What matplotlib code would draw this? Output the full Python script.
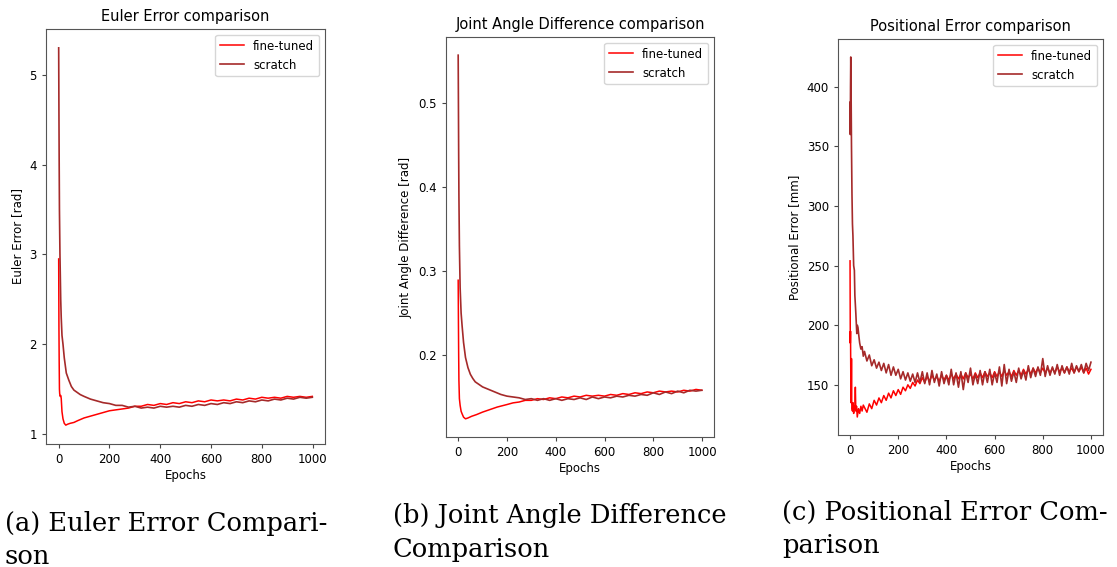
import matplotlib
matplotlib.use("Agg")
import matplotlib.pyplot as plt

# ---- (a) Euler error [rad] ----
euler_ft_ep = [0, 1, 2, 3, 4, 6, 8, 10, 13, 17, 22, 28, 35, 45, 60, 75, 100, 125, 150, 175,
               200, 225, 250, 275, 300, 325, 350, 375, 400, 425, 450, 475, 500, 525, 550, 575,
               600, 625, 650, 675, 700, 725, 750, 775, 800, 825, 850, 875, 900, 925, 950, 975, 999]
euler_ft = [2.95, 2.20, 1.80, 1.50, 1.45, 1.42, 1.43, 1.40, 1.25, 1.17, 1.12, 1.10, 1.11, 1.12,
            1.13, 1.15, 1.18, 1.20, 1.22, 1.24, 1.26, 1.27, 1.28, 1.29, 1.31, 1.31, 1.33, 1.32,
            1.34, 1.33, 1.35, 1.34, 1.36, 1.35, 1.37, 1.36, 1.38, 1.37, 1.38, 1.37, 1.39, 1.38,
            1.40, 1.39, 1.41, 1.40, 1.41, 1.40, 1.42, 1.41, 1.42, 1.41, 1.42]
euler_sc_ep = [0, 1, 2, 3, 5, 8, 10, 13, 17, 22, 30, 40, 50, 60, 70, 85, 100, 125, 150, 175,
               200, 225, 250, 275, 300, 325, 350, 375, 400, 425, 450, 475, 500, 525, 550, 575,
               600, 625, 650, 675, 700, 725, 750, 775, 800, 825, 850, 875, 900, 925, 950, 975, 999]
euler_sc = [5.30, 4.60, 4.00, 3.50, 3.00, 2.50, 2.30, 2.10, 2.00, 1.85, 1.68, 1.60, 1.53, 1.49,
            1.47, 1.44, 1.42, 1.39, 1.37, 1.35, 1.34, 1.32, 1.32, 1.30, 1.31, 1.29, 1.30, 1.29,
            1.31, 1.30, 1.31, 1.30, 1.32, 1.31, 1.33, 1.32, 1.34, 1.33, 1.35, 1.34, 1.36, 1.35,
            1.37, 1.36, 1.38, 1.37, 1.39, 1.38, 1.40, 1.39, 1.41, 1.40, 1.41]

# ---- (b) Joint angle difference [rad] ----
joint_ft_ep = [0, 1, 2, 3, 5, 8, 12, 16, 22, 30, 40, 55, 75, 100, 130, 160, 200, 225, 250, 275,
               300, 325, 350, 375, 400, 425, 450, 475, 500, 525, 550, 575, 600, 625, 650, 675,
               700, 725, 750, 775, 800, 825, 850, 875, 900, 925, 950, 975, 999]
joint_ft = [0.289, 0.240, 0.200, 0.170, 0.148, 0.140, 0.133, 0.130, 0.126, 0.124, 0.125, 0.127,
            0.129, 0.132, 0.135, 0.138, 0.141, 0.143, 0.144, 0.146, 0.146, 0.148, 0.147, 0.149,
            0.148, 0.150, 0.149, 0.151, 0.150, 0.152, 0.151, 0.152, 0.151, 0.153, 0.152, 0.154,
            0.153, 0.155, 0.154, 0.156, 0.155, 0.157, 0.156, 0.157, 0.156, 0.158, 0.157, 0.159, 0.158]
joint_sc_ep = [0, 1, 2, 3, 5, 8, 12, 16, 22, 30, 40, 50, 60, 70, 85, 100, 125, 150, 175, 200,
               225, 250, 275, 300, 325, 350, 375, 400, 425, 450, 475, 500, 525, 550, 575, 600,
               625, 650, 675, 700, 725, 750, 775, 800, 825, 850, 875, 900, 925, 950, 975, 999]
joint_sc = [0.557, 0.500, 0.440, 0.390, 0.330, 0.280, 0.250, 0.235, 0.215, 0.197, 0.185, 0.177,
            0.172, 0.168, 0.165, 0.162, 0.159, 0.156, 0.153, 0.151, 0.150, 0.149, 0.147, 0.148,
            0.146, 0.148, 0.146, 0.148, 0.146, 0.148, 0.147, 0.149, 0.147, 0.150, 0.148, 0.150,
            0.149, 0.151, 0.150, 0.152, 0.151, 0.153, 0.152, 0.155, 0.153, 0.156, 0.154, 0.157,
            0.155, 0.158, 0.157, 0.158]

# ---- (c) Positional error [mm] ----
pos_ep_early_ft = [0, 1, 2, 3, 4, 5, 6, 7, 8, 10, 12, 15, 18, 20, 22, 24, 27, 30, 35, 40, 45, 50, 55]
pos_ft_early = [254, 185, 195, 160, 135, 140, 172, 135, 130, 128, 135, 126, 132, 130, 148, 128,
                132, 123, 130, 126, 132, 128, 133]
pos_ep_early_sc = [0, 1, 2, 3, 4, 6, 8, 10, 12, 15, 18, 20, 24, 28, 30, 33, 36, 40, 45, 50, 55]
pos_sc_early = [387, 360, 400, 425, 405, 350, 310, 285, 275, 250, 246, 225, 210, 193, 200, 198,
                192, 185, 180, 182, 174]
pos_ep_late = list(range(60, 1001, 10))
pos_ft_late = [131, 127, 134, 130, 137, 133, 139, 135, 141, 137, 143, 139, 145, 141, 146, 142,
               148, 145, 150, 147, 152, 149, 154, 151, 156, 152, 157, 153, 158, 154, 157, 153,
               158, 154, 158, 154, 159, 155, 159, 155, 159, 155, 160, 156, 159, 155, 160, 156,
               160, 156, 161, 157, 160, 156, 161, 157, 161, 157, 162, 158, 161, 157, 162, 158,
               162, 158, 163, 159, 163, 159, 164, 160, 164, 160, 164, 160, 164, 160, 164, 160,
               165, 161, 164, 160, 165, 161, 164, 160, 165, 161, 165, 160, 164, 159, 163]
pos_sc_late = [178, 170, 175, 166, 171, 164, 169, 162, 168, 160, 167, 158, 165, 158, 163, 155,
               161, 154, 160, 153, 159, 152, 160, 152, 161, 151, 160, 150, 162, 152, 159, 149,
               161, 151, 158, 150, 163, 150, 160, 148, 161, 146, 160, 152, 164, 150, 159, 151,
               162, 150, 161, 152, 163, 150, 160, 152, 165, 149, 167, 151, 163, 153, 161, 152,
               164, 155, 162, 154, 166, 156, 164, 157, 165, 158, 172, 157, 166, 158, 165, 159,
               167, 158, 166, 160, 165, 159, 168, 160, 166, 161, 167, 160, 168, 162, 169]

panels = [
    dict(title="Euler Error comparison", ylabel="Euler Error [rad]",
         ft=(euler_ft_ep, euler_ft), sc=(euler_sc_ep, euler_sc),
         rect=[46, 29, 325, 444], yticks=[1, 2, 3, 4, 5],
         caption=["(a) Euler Error Compari-", "son"], cap_x=5, cap_y=[523, 556]),
    dict(title="Joint Angle Difference comparison", ylabel="Joint Angle Difference [rad]",
         ft=(joint_ft_ep, joint_ft), sc=(joint_sc_ep, joint_sc),
         rect=[446, 37, 714, 437], yticks=[0.2, 0.3, 0.4, 0.5],
         caption=["(b) Joint Angle Difference", "Comparison"], cap_x=393, cap_y=[515, 549]),
    dict(title="Positional Error comparison", ylabel="Positional Error [mm]",
         ft=(pos_ep_early_ft + pos_ep_late, pos_ft_early + pos_ft_late),
         sc=(pos_ep_early_sc + pos_ep_late, pos_sc_early + pos_sc_late),
         rect=[838, 39, 1103, 435], yticks=[150, 200, 250, 300, 350, 400],
         caption=["(c) Positional Error Com-", "parison"], cap_x=782, cap_y=[512, 546]),
]

W, H = 1117, 567
fig = plt.figure(figsize=(W / 100, H / 100), dpi=100)

for p in panels:
    l, t, r, b = p["rect"]
    ax = fig.add_axes([l / W, 1 - b / H, (r - l) / W, (b - t) / H])
    ax.plot(*p["ft"], color="red", linewidth=1.1, label="fine-tuned")
    ax.plot(*p["sc"], color="brown", linewidth=1.2, label="scratch")
    ax.set_title(p["title"], fontsize=10.5)
    ax.set_xlabel("Epochs", fontsize=8.5, labelpad=2)
    ax.set_ylabel(p["ylabel"], fontsize=8.5)
    ax.set_xticks([0, 200, 400, 600, 800, 1000])
    ax.set_yticks(p["yticks"])
    ax.tick_params(labelsize=8.5, color="#444444", length=3)
    for s in ax.spines.values():
        s.set_color("#555555")
    ax.legend(loc="upper right", fontsize=8.5)
    for line, y in zip(p["caption"], p["cap_y"]):
        fig.text(p["cap_x"] / W, 1 - y / H, line, fontsize=18.5,
                 family="DejaVu Serif", va="center", ha="left")

fig.savefig("out.png", dpi=100)
